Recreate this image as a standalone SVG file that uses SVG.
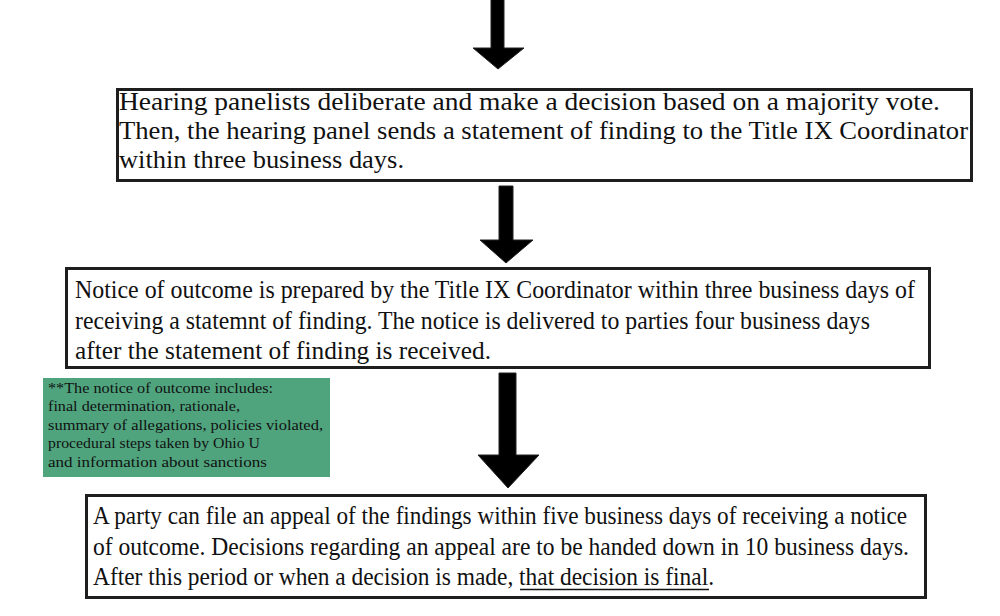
<svg xmlns="http://www.w3.org/2000/svg" width="1000" height="616" viewBox="0 0 1000 616">
<style>
.box{fill:#fff;stroke:#1e1e1e;stroke-width:3}
.t{font-family:"Liberation Serif","Times New Roman",serif;font-size:25px;fill:#111}
.n{font-family:"Liberation Serif","Times New Roman",serif;font-size:15.5px;fill:#111}
.arr{fill:#000;stroke:#222;stroke-width:1}
</style>
<rect width="1000" height="616" fill="#fff"/>
<g id="connectors">
<polygon class="arr" points="491,-2 504,-2 504,48 524,48 498,69 473,48 491,48"/>
<polygon class="arr" points="499,186 513,186 513,240 533,240 506,263 480,240 499,240"/>
<polygon class="arr" points="499,373 516,373 516,455 539,455 508,488 478,455 499,455"/>
</g>
<g id="node1">
<rect class="box" x="117.5" y="89.5" width="854" height="91"/>
<text class="t" x="119" y="110" textLength="821" lengthAdjust="spacingAndGlyphs">Hearing panelists deliberate and make a decision based on a majority vote.</text>
<text class="t" x="119" y="139" textLength="849" lengthAdjust="spacingAndGlyphs">Then, the hearing panel sends a statement of finding to the Title IX Coordinator</text>
<text class="t" x="119" y="168" textLength="285" lengthAdjust="spacingAndGlyphs">within three business days.</text>
</g>
<g id="node2">
<rect class="box" x="66.5" y="268.5" width="863" height="99"/>
<text class="t" x="75" y="298" textLength="840" lengthAdjust="spacingAndGlyphs">Notice of outcome is prepared by the Title IX Coordinator within three business days of</text>
<text class="t" x="75" y="329" textLength="795" lengthAdjust="spacingAndGlyphs">receiving a statemnt of finding. The notice is delivered to parties four business days</text>
<text class="t" x="75" y="359" textLength="416" lengthAdjust="spacingAndGlyphs">after the statement of finding is received.</text>
</g>
<g id="note">
<rect x="43" y="378" width="287" height="99" fill="#4fa47e"/>
<text class="n" x="48" y="393" textLength="225" lengthAdjust="spacingAndGlyphs">**The notice of outcome includes:</text>
<text class="n" x="48" y="411" textLength="192" lengthAdjust="spacingAndGlyphs">final determination, rationale,</text>
<text class="n" x="48" y="430" textLength="275" lengthAdjust="spacingAndGlyphs">summary of allegations, policies violated,</text>
<text class="n" x="48" y="448" textLength="212" lengthAdjust="spacingAndGlyphs">procedural steps taken by Ohio U</text>
<text class="n" x="48" y="467" textLength="219" lengthAdjust="spacingAndGlyphs">and information about sanctions</text>
</g>
<g id="node3">
<rect class="box" x="86.5" y="495.5" width="839" height="102"/>
<text class="t" x="93" y="524" textLength="814" lengthAdjust="spacingAndGlyphs">A party can file an appeal of the findings within five business days of receiving a notice</text>
<text class="t" x="93" y="555" textLength="816" lengthAdjust="spacingAndGlyphs">of outcome. Decisions regarding an appeal are to be handed down in 10 business days.</text>
<text class="t" x="93" y="585" textLength="621" lengthAdjust="spacingAndGlyphs">After this period or when a decision is made, that decision is final.</text>
<line x1="520" y1="589.5" x2="709" y2="589.5" stroke="#111" stroke-width="1.5"/>
</g>
</svg>
